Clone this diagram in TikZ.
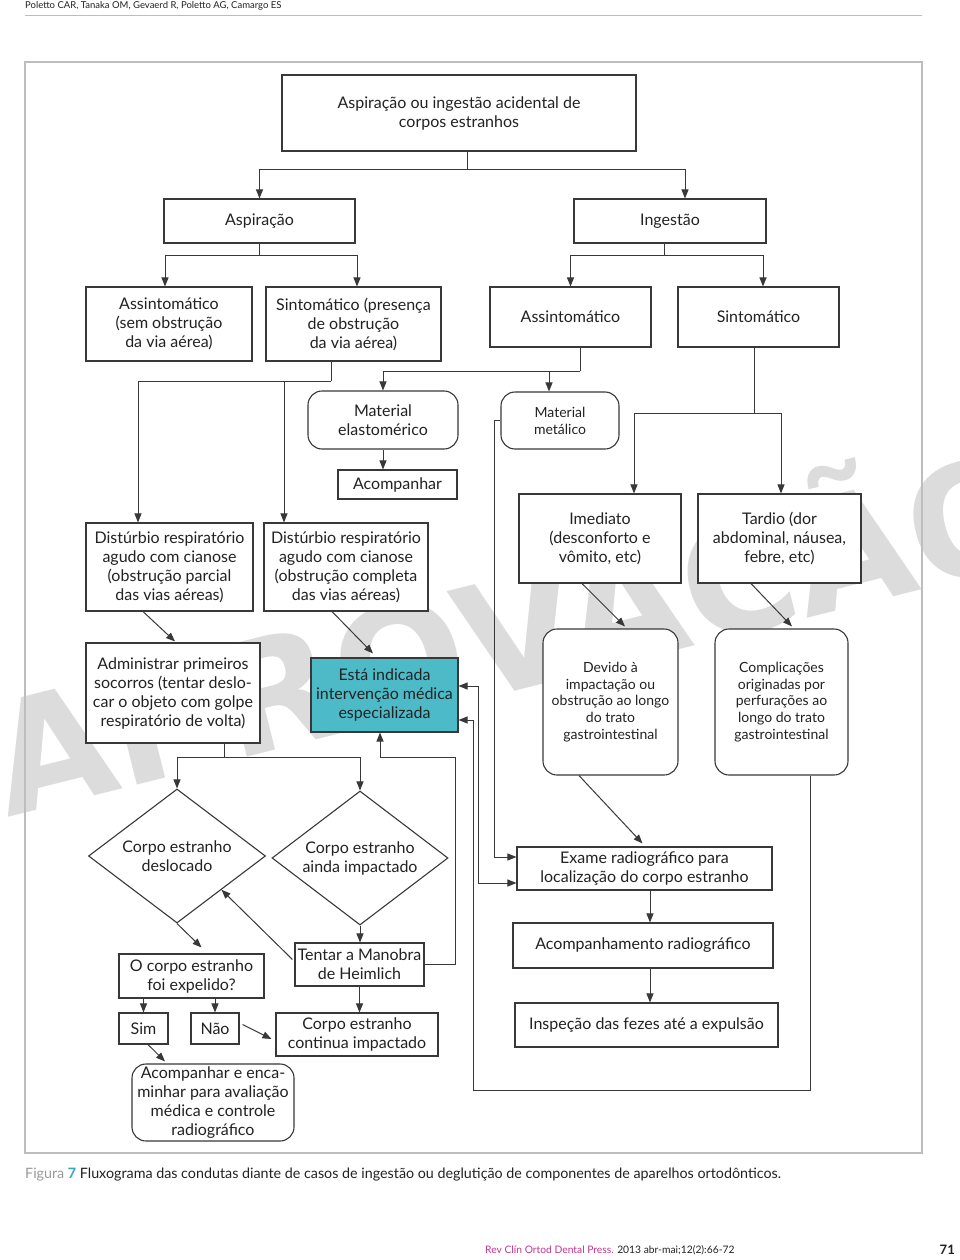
\documentclass[tikz,border=0pt]{standalone}
\usepackage{fontspec}
\setmainfont{Lato}
\newfontfamily\wmfont{DejaVu Sans}
\usetikzlibrary{shapes.geometric,arrows.meta,calc}
\definecolor{ln}{HTML}{383838}
\definecolor{tealbox}{HTML}{4DBAC8}
\definecolor{framec}{HTML}{BDBDBD}
\definecolor{wm}{HTML}{DCDCDC}
\definecolor{txt}{HTML}{222222}
\definecolor{capgray}{HTML}{9A9A9A}
\definecolor{capteal}{HTML}{2FA8BC}
\definecolor{pinkc}{HTML}{C4368C}
\tikzset{
  box/.style={draw=ln, line width=1.1pt, fill=white, text=txt, align=center, inner sep=0pt, font=\fontsize{16}{19}\selectfont},
  rbox/.style={box, rounded corners=14pt},
  sm/.style={font=\fontsize{14}{16.8}\selectfont},
  dia/.style={box, diamond, aspect=1.32},
  con/.style={draw=ln, line width=1pt},
  arr/.style={draw=ln, line width=1pt, -{Triangle[length=9pt,width=7pt]}},
  darr/.style={draw=ln, line width=1pt, {Triangle[length=9pt,width=7pt]}-{Triangle[length=9pt,width=7pt]}}
}
\begin{document}
\begin{tikzpicture}[x=1pt,y=-1pt]
\path[fill=white, use as bounding box] (0,0) rectangle (960,1260);
% watermark
\begin{scope}
\clip (0,0) rectangle (960,1260);
\node[text=wm, rotate=14, inner sep=0pt, font=\fontsize{155}{155}\wmfont\bfseries] (wmk) at (515,632) {APROVAÇÃO};
\end{scope}
% header
\node[anchor=west, inner sep=0pt, text=txt, font=\fontsize{9.5}{11}\selectfont] (hdr) at (25,6) {Poletto CAR, Tanaka OM, Gevaerd R, Poletto AG, Camargo ES};
\draw[framec, line width=1pt] (25,16) -- (922,16);
% frame
\draw[framec, line width=1.2pt] (25,62) rectangle (922,1153);

% nodes
\node[box, minimum width=354pt, minimum height=76pt] (top) at (459,113) {Aspiração ou ingestão acidental de\\corpos estranhos};
\node[box, minimum width=191pt, minimum height=44pt] (asp) at (259.5,221) {Aspiração};
\node[box, minimum width=192pt, minimum height=44pt] (ing) at (670,221) {Ingestão};
\node[box, minimum width=166pt, minimum height=74pt] (asL) at (169,324) {Assintomático\\(sem obstrução\\da via aérea)};
\node[box, minimum width=175pt, minimum height=74pt] (sinL) at (353.5,324) {Sintomático (presença\\de obstrução\\da via aérea)};
\node[box, minimum width=161pt, minimum height=60pt] (asR) at (570.5,317) {Assintomático};
\node[box, minimum width=161pt, minimum height=60pt] (sinR) at (758.5,317) {Sintomático};
\node[rbox, minimum width=150pt, minimum height=58pt] (elast) at (383,420) {Material\\elastomérico};
\node[rbox, sm, minimum width=118pt, minimum height=57pt] (metal) at (560,420.5) {Material\\metálico};
\node[box, minimum width=119pt, minimum height=29pt] (acomp) at (397.5,484.5) {Acompanhar};
\node[box, minimum width=167pt, minimum height=88pt] (disL) at (169.5,567) {Distúrbio respiratório\\agudo com cianose\\(obstrução parcial\\das vias aéreas)};
\node[box, minimum width=164pt, minimum height=88pt] (disR) at (346,567) {Distúrbio respiratório\\agudo com cianose\\(obstrução completa\\das vias aéreas)};
\node[box, minimum width=162pt, minimum height=89pt] (imed) at (600,538.5) {Imediato\\(desconforto e\\vômito, etc)};
\node[box, minimum width=163pt, minimum height=89pt] (tard) at (779.5,538.5) {Tardio (dor\\abdominal, náusea,\\febre, etc)};
\node[box, minimum width=174pt, minimum height=100pt] (admin) at (173,693) {Administrar primeiros\\socorros (tentar deslo-\\car o objeto com golpe\\respiratório de volta)};
\node[box, fill=tealbox, minimum width=147pt, minimum height=74pt] (esta) at (384.5,695) {Está indicada\\intervenção médica\\especializada};
\node[rbox, sm, minimum width=135pt, minimum height=146pt] (devido) at (610.5,702) {Devido à\\impactação ou\\obstrução ao longo\\do trato\\gastrointestinal};
\node[rbox, sm, minimum width=133pt, minimum height=146pt] (compl) at (781.5,702) {Complicações\\originadas por\\perfurações ao\\longo do trato\\gastrointestinal};
\node[dia, minimum width=177pt, minimum height=134pt] (d1) at (177,856) {Corpo estranho\\deslocado};
\node[dia, minimum width=176pt, minimum height=134pt] (d2) at (360,858) {Corpo estranho\\ainda impactado};
\node[box, minimum width=255pt, minimum height=43pt] (exame) at (644.5,868.5) {Exame radiográfico para\\localização do corpo estranho};
\node[box, minimum width=260pt, minimum height=45pt] (acrad) at (643,945.5) {Acompanhamento radiográfico};
\node[box, minimum width=263pt, minimum height=44pt] (insp) at (646.5,1025) {Inspeção das fezes até a expulsão};
\node[box, minimum width=145pt, minimum height=44pt] (ocorpo) at (191.5,976) {O corpo estranho\\foi expelido?};
\node[box, minimum width=129pt, minimum height=43pt] (tentar) at (359.5,964.5) {Tentar a Manobra\\de Heimlich};
\node[box, minimum width=49pt, minimum height=31pt] (sim) at (143.5,1028.5) {Sim};
\node[box, minimum width=48pt, minimum height=31pt] (nao) at (215,1028.5) {Não};
\node[box, minimum width=162pt, minimum height=43pt] (cont) at (357,1034.5) {Corpo estranho\\continua impactado};
\node[rbox, minimum width=162pt, minimum height=77pt] (acenc) at (213,1102.5) {Acompanhar e enca-\\minhar para avaliação\\médica e controle\\radiográfico};

% connectors
\coordinate (j1) at (467,170);
\draw[con] (top.south -| j1) -- (j1);
\draw[arr] (j1) -| (asp.north);
\draw[arr] (j1) -| ($(ing.north)+(15,0)$);

\coordinate (j2) at (259.5,255);
\draw[con] (asp.south) -- (j2);
\draw[arr] (j2) -| ($(asL.north)+(-4,0)$);
\draw[arr] (j2) -| ($(sinL.north)+(3.5,0)$);

\coordinate (j3) at (664,255);
\draw[con] (ing.south -| j3) -- (j3);
\draw[arr] (j3) -| (asR.north);
\draw[arr] (j3) -| ($(sinR.north)+(4.5,0)$);

\coordinate (j4) at (331,381);
\draw[con] (sinL.south -| j4) -- (j4);
\draw[arr] (j4) -| ($(disL.north)+(-31.5,0)$);
\draw[arr] (j4) -| ($(disR.north)+(-62,0)$);

\coordinate (j5) at (580,371);
\draw[con] (asR.south -| j5) -- (j5);
\draw[arr] (j5) -| (elast.north);
\draw[arr] (j5) -| ($(metal.north)+(-11,0)$);

\draw[arr] (elast.south) -- (elast.south |- acomp.north);

\coordinate (j6) at (754,413);
\draw[con] (sinR.south -| j6) -- (j6);
\draw[arr] (j6) -| ($(imed.north)+(34,0)$);
\draw[arr] (j6) -| ($(tard.north)+(1.5,0)$);

\draw[arr] ($(imed.south)+(-18,0)$) -- ($(devido.north)+(14.5,-2)$);
\draw[arr] ($(tard.south)+(-28.5,0)$) -- ($(compl.north)+(10.5,-2)$);
\draw[arr] ($(disL.south)+(-26.5,0)$) -- ($(admin.north)+(2,-1)$);
\draw[arr] ($(disR.south)+(-14,0)$) -- ($(esta.north)+(-11.5,-4)$);

\coordinate (j7) at (224,757);
\draw[con] (admin.south -| j7) -- (j7);
\draw[arr] (j7) -| (d1.north);
\draw[arr] (j7) -| (d2.north);

\draw[arr] (d2.south) -- (d2.south |- tentar.north);
\draw[arr] (d1.south) -- ($(ocorpo.north)+(10,-6)$);
\draw[arr] ($(tentar.west)+(-2,-5)$) -- (d1.south east);
\draw[arr] (tentar.south) -- (tentar.south |- cont.north);
\draw[arr] (sim.north |- ocorpo.south) -- (sim.north);
\draw[arr] (nao.north |- ocorpo.south) -- (nao.north);
\draw[arr] ($(nao.east)+(3,-4)$) -- ($(cont.west)+(-4,4.5)$);
\draw[arr] ($(sim.south)+(4.5,0)$) -- ($(acenc.north)+(-48,-2)$);

\draw[arr] ($(devido.south)+(-31.5,0)$) -- ($(exame.north)+(-2,-3)$);
\draw[arr] ($(exame.south)+(5.5,0)$) -- ($(acrad.north)+(7,0)$);
\draw[arr] ($(acrad.south)+(7,0)$) -- ($(insp.north)+(3.5,0)$);

\draw[arr] (metal.west) -- ++(-6,0) |- ($(exame.west)+(0,-11.5)$);
\draw[darr] ($(esta.east)+(0,-9)$) -- ++(20,0) |- ($(exame.west)+(0,14.5)$);
\coordinate (bl) at (473,1090);
\draw[arr] ($(compl.south)+(28.5,0)$) |- (bl) |- ($(esta.east)+(0,25)$);
\coordinate (tj) at (455,757);
\draw[arr] (tentar.east) -| (tj) -| ($(esta.south)+(-4.5,0)$);

% caption and footer
\node[anchor=west, inner sep=0pt, font=\fontsize{14.3}{16}\selectfont] (cap) at (25,1175) {\textcolor{capgray}{Figura} \textcolor{capteal}{\bfseries 7} \textcolor{txt}{Fluxograma das condutas diante de casos de ingestão ou deglutição de componentes de aparelhos ortodônticos.}};
\node[anchor=west, inner sep=0pt, font=\fontsize{10.3}{12}\selectfont] (foot) at (485,1250) {\textcolor{pinkc}{Rev Clín Ortod Dental Press.} \textcolor{txt}{2013 abr-mai;12(2):66-72}};
\node[anchor=east, inner sep=0pt, text=txt, font=\fontsize{13}{15}\selectfont\bfseries] (pg) at (955,1250) {71};
\end{tikzpicture}
\end{document}
